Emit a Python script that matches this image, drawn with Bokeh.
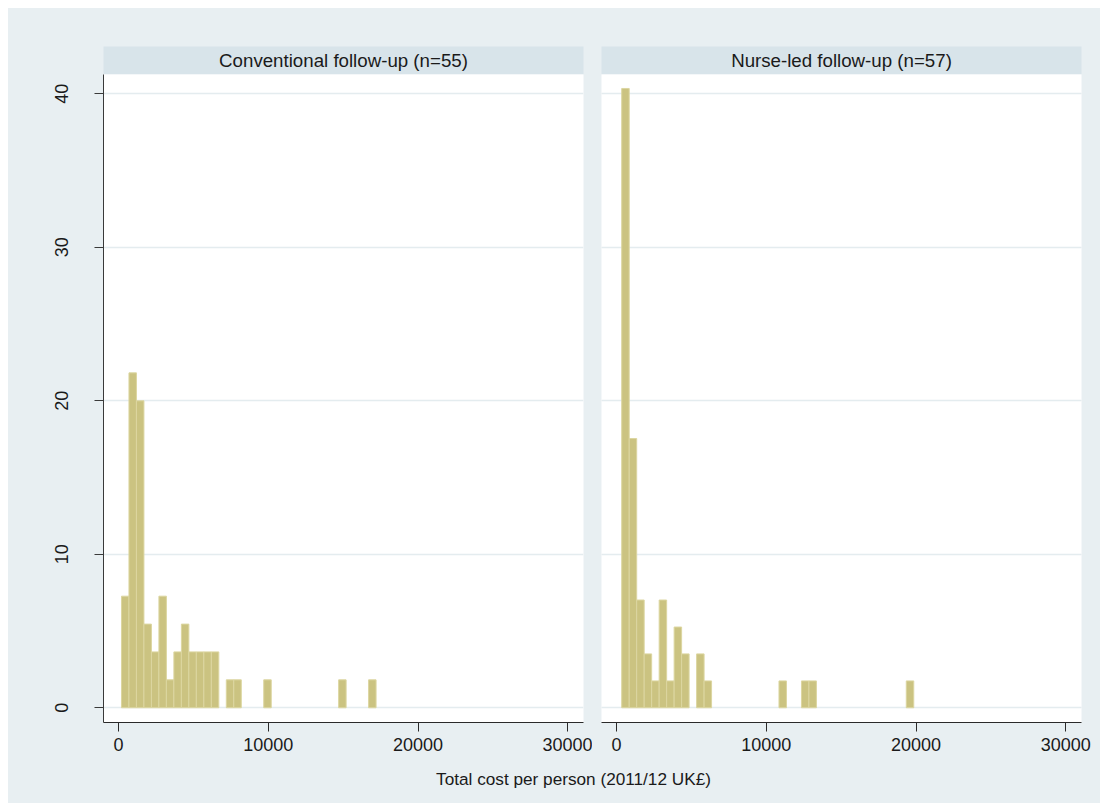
from bokeh.plotting import figure
from bokeh.layouts import column, row
from bokeh.models import Range1d, FixedTicker, Grid, Label, ColumnDataSource
from bokeh.embed import file_html
from bokeh.resources import INLINE

# ---------------- data ----------------
panel_titles = ["Conventional follow-up (n=55)", "Nurse-led follow-up (n=57)"]
x_axis_title = "Total cost per person (2011/12 UK\u00a3)"
x_ticks = [0, 10000, 20000, 30000]
x_tick_labels = ["0", "10000", "20000", "30000"]
y_ticks = [0, 10, 20, 30, 40]
y_tick_labels = ["0", "10", "20", "30", "40"]

bin_width = 500  # £ per bin

# Conventional follow-up: first bin edge and percent of patients per bin
conv_first_edge = 200
conv_percent = [7.27, 21.82, 20.00, 5.45, 3.64, 7.27, 1.82, 3.64, 5.45, 3.64,
                3.64, 3.64, 3.64, 0, 1.82, 1.82, 0, 0, 0, 1.82,
                0, 0, 0, 0, 0, 0, 0, 0, 0, 1.82,
                0, 0, 0, 1.82]

# Nurse-led follow-up
nurse_first_edge = 350
nurse_percent = [40.35, 17.54, 7.02, 3.51, 1.75, 7.02, 1.75, 5.26, 3.51, 0,
                 3.51, 1.75, 0, 0, 0, 0, 0, 0, 0, 0,
                 0, 1.75, 0, 0, 1.75, 1.75, 0, 0, 0, 0,
                 0, 0, 0, 0, 0, 0, 0, 0, 1.75]

# ---------------- style ----------------
FONT = "Liberation Sans"
BG = "#e8eff2"
STRIP = "#d8e4ea"
GRID_C = "#e4ecef"
BAR_FILL = "#cbc381"
BAR_LINE = "#dcd6a0"
TEXT_C = "#1a1a1a"
AXIS_C = "#2a2a2a"

X_RANGE = (-1000, 31050)
Y_RANGE = (-0.96, 41.26)
FRAME_W, FRAME_H = 480, 648
TOP_GAP, STRIP_H = 38, 28
BOTTOM_AXIS = 40


def hist_source(first_edge, percents):
    left, right, top = [], [], []
    for i, v in enumerate(percents):
        if v > 0:
            lo = first_edge + i * bin_width
            left.append(lo)
            right.append(lo + bin_width)
            top.append(v)
    return ColumnDataSource(dict(left=left, right=right, top=top))


def strip_panel(title, lb, rb):
    s = figure(width=lb + FRAME_W + rb, height=TOP_GAP + STRIP_H,
               x_range=Range1d(0, 1), y_range=Range1d(0, 1),
               x_axis_location=None, y_axis_location=None,
               min_border_left=lb, min_border_right=rb,
               min_border_top=TOP_GAP, min_border_bottom=0,
               background_fill_color=STRIP, border_fill_color=BG,
               outline_line_color=None, toolbar_location=None,
               output_backend="svg")
    s.grid.visible = False
    s.add_layout(Label(x=0.5, y=0.5, text=title, text_align="center",
                       text_baseline="middle", text_font=FONT,
                       text_font_size="18.7px", text_color=TEXT_C))
    return s


def main_panel(first_edge, percents, lb, rb, show_y):
    p = figure(width=lb + FRAME_W + rb, height=FRAME_H + BOTTOM_AXIS,
               x_range=Range1d(*X_RANGE), y_range=Range1d(*Y_RANGE),
               y_axis_location="left" if show_y else None,
               min_border_left=lb, min_border_right=rb,
               min_border_top=0, min_border_bottom=BOTTOM_AXIS,
               background_fill_color="white", border_fill_color=BG,
               outline_line_color=None, toolbar_location=None,
               output_backend="svg")
    p.xgrid.visible = False
    if show_y:
        p.ygrid.visible = False
    p.add_layout(Grid(dimension=1, ticker=FixedTicker(ticks=y_ticks),
                      grid_line_color=GRID_C, grid_line_width=1.5))

    xa = p.xaxis[0]
    xa.ticker = FixedTicker(ticks=x_ticks)
    xa.major_label_overrides = {t: l for t, l in zip(x_ticks, x_tick_labels)}
    xa.axis_line_color = AXIS_C
    xa.major_tick_line_color = AXIS_C
    xa.major_tick_out = 9
    xa.major_tick_in = 0
    xa.minor_tick_line_color = None
    xa.major_label_standoff = 6
    xa.major_label_text_font = FONT
    xa.major_label_text_font_size = "18px"
    xa.major_label_text_color = TEXT_C

    if show_y:
        ya = p.yaxis[0]
        ya.ticker = FixedTicker(ticks=y_ticks)
        ya.major_label_overrides = {t: l for t, l in zip(y_ticks, y_tick_labels)}
        ya.axis_line_color = "#3a3a3a"
        ya.major_tick_line_color = "#3a3a3a"
        ya.major_tick_out = 9
        ya.major_tick_in = 0
        ya.minor_tick_line_color = None
        ya.major_label_orientation = "vertical"
        ya.major_label_standoff = 26
        ya.major_label_text_font = FONT
        ya.major_label_text_font_size = "18px"
        ya.major_label_text_color = TEXT_C

    p.quad(left="left", right="right", top="top", bottom=0,
           source=hist_source(first_edge, percents),
           fill_color=BAR_FILL, line_color=BAR_LINE, line_width=1)
    return p


L_LB, L_RB = 95, 9
R_LB, R_RB = 9, 19

strip_l = strip_panel(panel_titles[0], L_LB, L_RB)
strip_r = strip_panel(panel_titles[1], R_LB, R_RB)
main_l = main_panel(conv_first_edge, conv_percent, L_LB, L_RB, True)
main_r = main_panel(nurse_first_edge, nurse_percent, R_LB, R_RB, False)

total_w = (L_LB + FRAME_W + L_RB) + (R_LB + FRAME_W + R_RB)
title_h = 41
t = figure(width=total_w, height=title_h,
           x_range=Range1d(0, total_w), y_range=Range1d(0, title_h),
           x_axis_location=None, y_axis_location=None,
           min_border_left=0, min_border_right=0, min_border_top=0, min_border_bottom=0,
           background_fill_color=BG, border_fill_color=BG,
           outline_line_color=None, toolbar_location=None, output_backend="svg")
t.grid.visible = False
t.add_layout(Label(x=565, y=25, text=x_axis_title, text_align="center",
                   text_baseline="middle", text_font=FONT,
                   text_font_size="17.2px", text_color=TEXT_C))

layout = column(row(strip_l, strip_r, styles={"background-color": BG}),
                row(main_l, main_r, styles={"background-color": BG}),
                t, margin=(8, 0, 0, 8), styles={"background-color": BG})

open("out.html", "w").write(file_html(layout, INLINE))
